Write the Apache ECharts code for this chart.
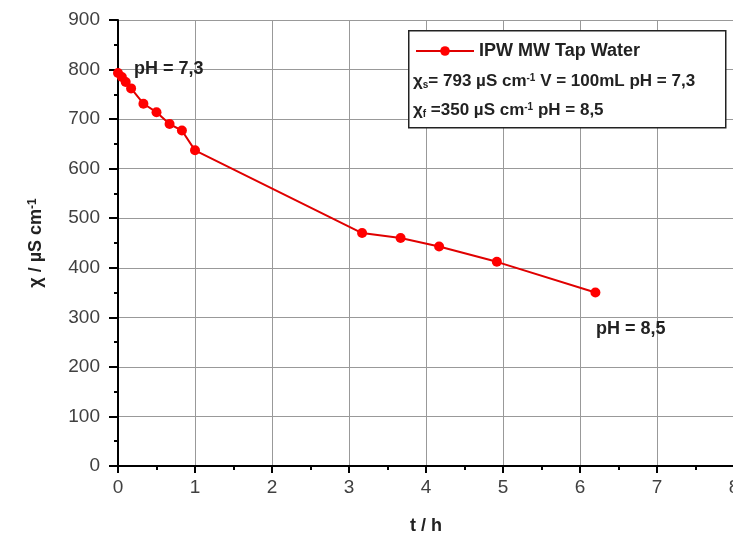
<!DOCTYPE html>
<html><head><meta charset="utf-8">
<script src="https://cdn.jsdelivr.net/npm/echarts@6/dist/echarts.min.js"></script>
<style>html,body{margin:0;padding:0;background:#fff}#c{width:733px;height:536px}</style>
</head><body><div id="c"></div>
<script>
const seriesName = 'IPW MW Tap Water';
const timeH = [0, 0.05, 0.1, 0.17, 0.33, 0.5, 0.67, 0.83, 1.0, 3.17, 3.67, 4.17, 4.92, 6.2];
const chi = [793, 785, 775, 762, 731, 714, 690, 677, 637, 470, 460, 443, 412, 350];
const xTicks = [0, 1, 2, 3, 4, 5, 6, 7, 8];
const yTicks = [0, 100, 200, 300, 400, 500, 600, 700, 800, 900];

const chart = echarts.init(document.getElementById('c'));
const font = 'Liberation Sans, Arial, sans-serif';
const gl = 118, gt = 20, gw = 616, gh = 446;
const richLegend = {
  a: {fontSize: 17, fontWeight: 'bold', fill: '#222', fontFamily: font},
  b: {fontSize: 10, fontWeight: 'bold', fill: '#222', verticalAlign: 'bottom', fontFamily: font},
  c: {fontSize: 10, fontWeight: 'bold', fill: '#222', verticalAlign: 'top', fontFamily: font}
};
chart.setOption({
  animation: false,
  textStyle: {fontFamily: font},
  grid: {left: gl, top: gt, width: gw, height: gh, outerBoundsMode: 'none', containLabel: false},
  xAxis: {
    type: 'value', min: xTicks[0], max: xTicks[xTicks.length-1], interval: 1,
    name: 't / h', nameLocation: 'middle', nameGap: 51,
    nameTextStyle: {fontWeight: 'bold', fontSize: 18, color: '#222'},
    axisLine: {show: true, onZero: false, lineStyle: {color: '#000', width: 2}},
    axisTick: {show: true, length: 7, lineStyle: {color: '#000', width: 2}},
    minorTick: {show: true, splitNumber: 2, length: 4, lineStyle: {color: '#000', width: 2}},
    axisLabel: {fontSize: 19, color: '#404040', margin: 12},
    splitLine: {show: true, lineStyle: {color: '#999', width: 1}}
  },
  yAxis: {
    type: 'value', min: yTicks[0], max: yTicks[yTicks.length-1], interval: 100,
    name: '{a|χ / µS cm}{s|-1}', nameLocation: 'middle', nameGap: 73, nameRotate: 90,
    nameTextStyle: {rich: {
      a: {fontWeight: 'bold', fontSize: 18, color: '#222', fontFamily: font},
      s: {fontWeight: 'bold', fontSize: 12, color: '#222', verticalAlign: 'top', fontFamily: font}
    }},
    axisLine: {show: true, onZero: false, lineStyle: {color: '#000', width: 2}},
    axisTick: {show: true, length: 9, lineStyle: {color: '#000', width: 2}},
    minorTick: {show: true, splitNumber: 2, length: 4, lineStyle: {color: '#000', width: 2}},
    axisLabel: {fontSize: 19, color: '#404040', margin: 18},
    splitLine: {show: true, lineStyle: {color: '#999', width: 1}}
  },
  legend: {
    left: 410, top: 37, itemWidth: 58, itemHeight: 12, itemGap: 8,
    textStyle: {fontWeight: 'bold', fontSize: 18, color: '#222'},
    data: [seriesName]
  },
  graphic: [
    {type: 'rect', left: 408, top: 30, shape: {width: 317, height: 97},
     style: {fill: '#fff', stroke: '#222', lineWidth: 1.5}, z: 1},
    {type: 'text', left: 413, top: 73, z: 10, style: {
      text: '{a|χ}{b|s}{a|= 793 µS cm}{c|-1}{a| V = 100mL pH = 7,3}', rich: richLegend}},
    {type: 'text', left: 413, top: 102, z: 10, style: {
      text: '{a|χ}{b|f}{a| =350 µS cm}{c|-1}{a| pH = 8,5}', rich: richLegend}},
    {type: 'text', left: 134, top: 60, z: 10, style: {text: 'pH = 7,3', fontSize: 18, fontWeight: 'bold', fill: '#222', fontFamily: font}},
    {type: 'text', left: 596, top: 320, z: 10, style: {text: 'pH = 8,5', fontSize: 18, fontWeight: 'bold', fill: '#222', fontFamily: font}}
  ],
  series: [{
    name: seriesName, type: 'line',
    data: timeH.map((t, i) => [t, chi[i]]),
    symbol: 'circle', symbolSize: 10,
    itemStyle: {color: '#ff0000'},
    lineStyle: {color: '#e00000', width: 2},
    z: 5
  }]
});
</script></body></html>
